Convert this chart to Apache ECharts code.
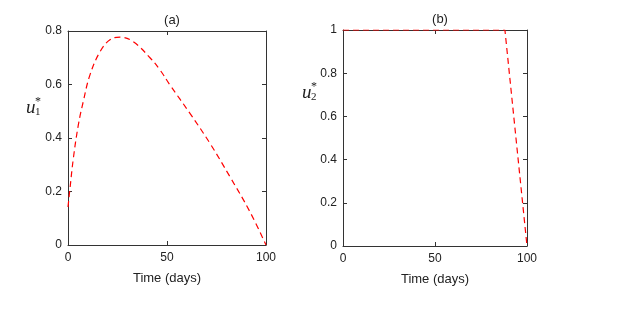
<!DOCTYPE html>
<html><head><meta charset="utf-8">
<script src="https://cdn.jsdelivr.net/npm/echarts@6/dist/echarts.min.js"></script>
<style>html,body{margin:0;padding:0;background:#fff}#c{width:625px;height:312px}</style>
</head><body><div id="c"></div>
<script>
var timeA = [0, 1.0, 2.7, 5.2, 7.7, 11.1, 16.2, 21.2, 26.3, 32.9, 41.4, 46.5, 51.5, 61.6, 71.7, 81.8, 91.9, 100];
var u1Values = [0.142, 0.211, 0.324, 0.448, 0.536, 0.636, 0.723, 0.767, 0.777, 0.760, 0.700, 0.654, 0.598, 0.492, 0.380, 0.255, 0.124, 0];
var timeB = [0, 88, 100];
var u2Values = [1, 1, 0];
var xTicks = [0, 50, 100];

function pairs(xs, ys) { return xs.map(function (x, i) { return [x, ys[i]]; }); }

var axisCol = '#333';
var font = 'Liberation Sans, Arial, sans-serif';
function xAx(gi, pos, lbl) {
  return { type: 'value', gridIndex: gi, position: pos, min: 0, max: 100, interval: 50,
    axisLine: { show: true, onZero: false, lineStyle: { color: axisCol, width: 1 } },
    axisTick: { show: true, inside: true, length: 4, lineStyle: { color: axisCol } },
    axisLabel: { show: lbl, color: '#222', fontSize: 12, fontFamily: font, margin: 7 },
    splitLine: { show: false },
    name: lbl ? 'Time (days)' : '', nameLocation: 'middle', nameGap: 27,
    nameTextStyle: { color: '#222', fontSize: 13, fontFamily: font } };
}
function yAx(gi, pos, lbl, max) {
  return { type: 'value', gridIndex: gi, position: pos, min: 0, max: max, interval: 0.2,
    axisLine: { show: true, onZero: false, lineStyle: { color: axisCol, width: 1 } },
    axisTick: { show: true, inside: true, length: 4, lineStyle: { color: axisCol } },
    axisLabel: { show: lbl, color: '#222', fontSize: 12, fontFamily: font, margin: 6,
      formatter: function (v) { return (Math.round(v * 10) / 10).toString(); } },
    splitLine: { show: false } };
}

var chart = echarts.init(document.getElementById('c'), null, { renderer: 'canvas' });
chart.setOption({
  animation: false,
  backgroundColor: '#fff',
  title: [
    { text: '(a)', left: 167, top: 9, textAlign: 'center', textStyle: { fontSize: 13, fontWeight: 'normal', color: '#222', fontFamily: font } },
    { text: '(b)', left: 435, top: 8, textAlign: 'center', textStyle: { fontSize: 13, fontWeight: 'normal', color: '#222', fontFamily: font } }
  ],
  grid: [
    { left: 68, top: 31, width: 198, height: 214 },
    { left: 343, top: 30, width: 184, height: 216 }
  ],
  xAxis: [xAx(0, 'bottom', true), xAx(0, 'top', false), xAx(1, 'bottom', true), xAx(1, 'top', false)],
  yAxis: [yAx(0, 'left', true, 0.8), yAx(0, 'right', false, 0.8), yAx(1, 'left', true, 1), yAx(1, 'right', false, 1)],
  series: [
    { type: 'line', xAxisIndex: 0, yAxisIndex: 0, data: pairs(timeA, u1Values), smooth: 0.4, showSymbol: false,
      lineStyle: { color: '#ff0000', width: 1.2, type: [6, 4] } },
    { type: 'line', xAxisIndex: 2, yAxisIndex: 2, data: pairs(timeB, u2Values), showSymbol: false,
      lineStyle: { color: '#ff0000', width: 1.2, type: [6, 4] } }
  ],
  graphic: [
    { type: 'text', left: 26, top: 98, style: { text: 'u', font: 'italic 19px "Liberation Serif", serif', fill: '#222' } },
    { type: 'text', left: 35, top: 107, style: { text: '1', font: '11px "Liberation Serif", serif', fill: '#222' } },
    { type: 'text', left: 35, top: 96, style: { text: '*', font: '12px "Liberation Serif", serif', fill: '#222' } },
    { type: 'text', left: 302, top: 83, style: { text: 'u', font: 'italic 19px "Liberation Serif", serif', fill: '#222' } },
    { type: 'text', left: 311, top: 92, style: { text: '2', font: '11px "Liberation Serif", serif', fill: '#222' } },
    { type: 'text', left: 311, top: 81, style: { text: '*', font: '12px "Liberation Serif", serif', fill: '#222' } }
  ]
});
</script></body></html>
